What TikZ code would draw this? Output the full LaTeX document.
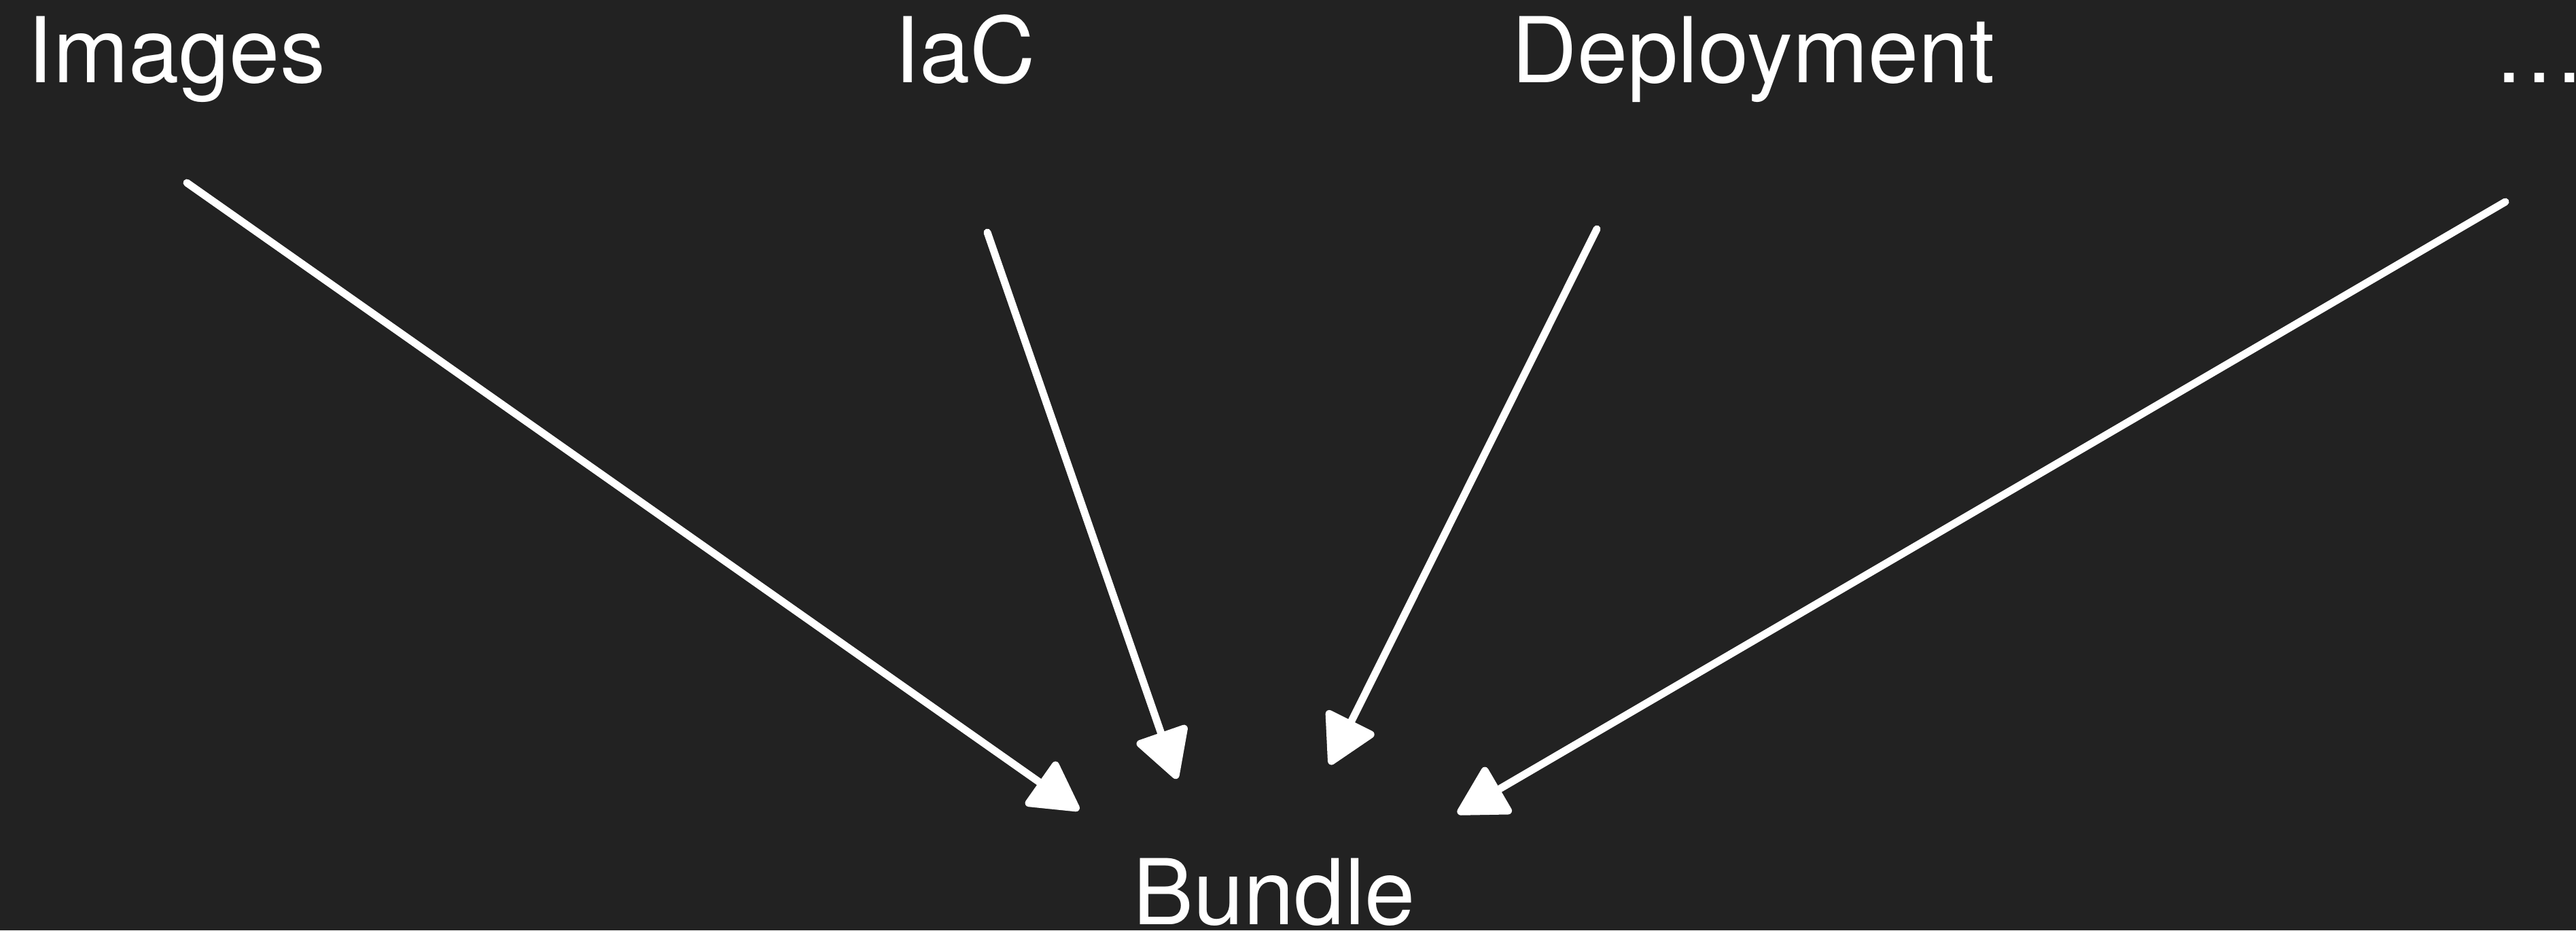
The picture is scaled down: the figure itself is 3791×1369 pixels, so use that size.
\documentclass[tikz,border=0pt]{standalone}
\usepackage{fontspec}
\setmainfont{TeX Gyre Heros}
\usetikzlibrary{arrows.meta}
\definecolor{slide}{HTML}{222222}
\begin{document}
\begin{tikzpicture}[x=0.01cm, y=-0.01cm, -{Triangle[length=0.78cm, width=0.84cm, round]}, line width=0.11cm, white, line cap=round]
	\tikzstyle{word} = [inner sep=0pt, anchor=base, font=\fontsize{38}{40}\selectfont, text=white]
	\fill[slide] (0,0) rectangle (3791,1369);
	\useasboundingbox (0,0) rectangle (3791,1369);
	\node[word](img) at (260,121) {Images};
	\node[word](iac) at (1420,121) {IaC};
	\node[word](dep) at (2580,121) {Deployment};
	\node[word](more) at (3737,121) {…};
	\node[word](bun) at (1875,1360) {Bundle};
	\coordinate (img-out) at (275,269);
	\coordinate (iac-out) at (1453,342);
	\coordinate (dep-out) at (2350,337);
	\coordinate (more-out) at (3687,297);
	\coordinate (bun-a) at (1588,1192);
	\coordinate (bun-b) at (1732,1146);
	\coordinate (bun-c) at (1957,1125);
	\coordinate (bun-d) at (2145,1197);
	\path  (img-out) edge (bun-a);
	\path  (iac-out) edge (bun-b);
	\path  (dep-out) edge (bun-c);
	\path  (more-out) edge (bun-d);
\end{tikzpicture}
\end{document}
